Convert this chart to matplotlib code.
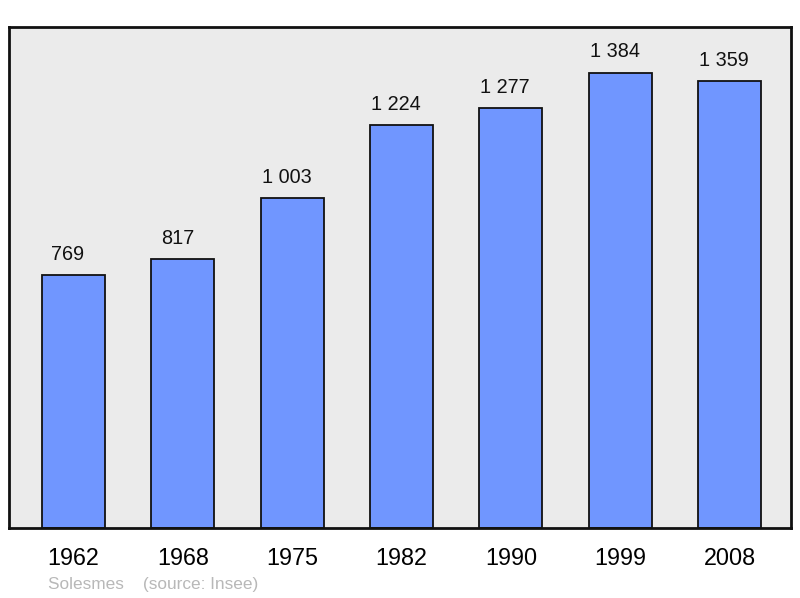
import matplotlib
matplotlib.use("Agg")
import matplotlib.pyplot as plt

years = ["1962", "1968", "1975", "1982", "1990", "1999", "2008"]
population = [769, 817, 1003, 1224, 1277, 1384, 1359]
value_labels = ["769", "817", "1 003", "1 224", "1 277", "1 384", "1 359"]

plt.rcParams['font.family'] = ['Liberation Sans', 'DejaVu Sans']

fig = plt.figure(figsize=(8, 5.98), dpi=100)
ax = fig.add_axes([9/800, 1 - 528/598, 782/800, 501/598])
ax.set_facecolor('#ebebeb')

x = list(range(len(years)))
ax.bar(x, population, width=0.578, color='#7096ff', edgecolor='#111111', linewidth=1.3, zorder=2)
for xi, v, lab in zip(x, population, value_labels):
    ax.annotate(lab, (xi, v), xytext=(-4, 8), textcoords='offset points',
                ha='center', va='bottom', fontsize=14.3, color='#111111')

ax.set_xlim(-0.59, 6.5625)
ax.set_ylim(0, 1384 * 1.1)
ax.set_xticks(x)
ax.set_xticklabels(years, fontsize=16.8)
ax.tick_params(axis='x', length=0, pad=14)
for lbl in ax.get_xticklabels():
    lbl.set_x(lbl.get_position()[0])
ax.set_yticks([])
for s in ax.spines.values():
    s.set_linewidth(2)
    s.set_color('#111111')

fig.text(48/800, 1 - 584/598, "Solesmes    (source: Insee)", fontsize=12.4, color='#b8b8b8',
         ha='left', va='center')

fig.savefig("out.png", dpi=100)
